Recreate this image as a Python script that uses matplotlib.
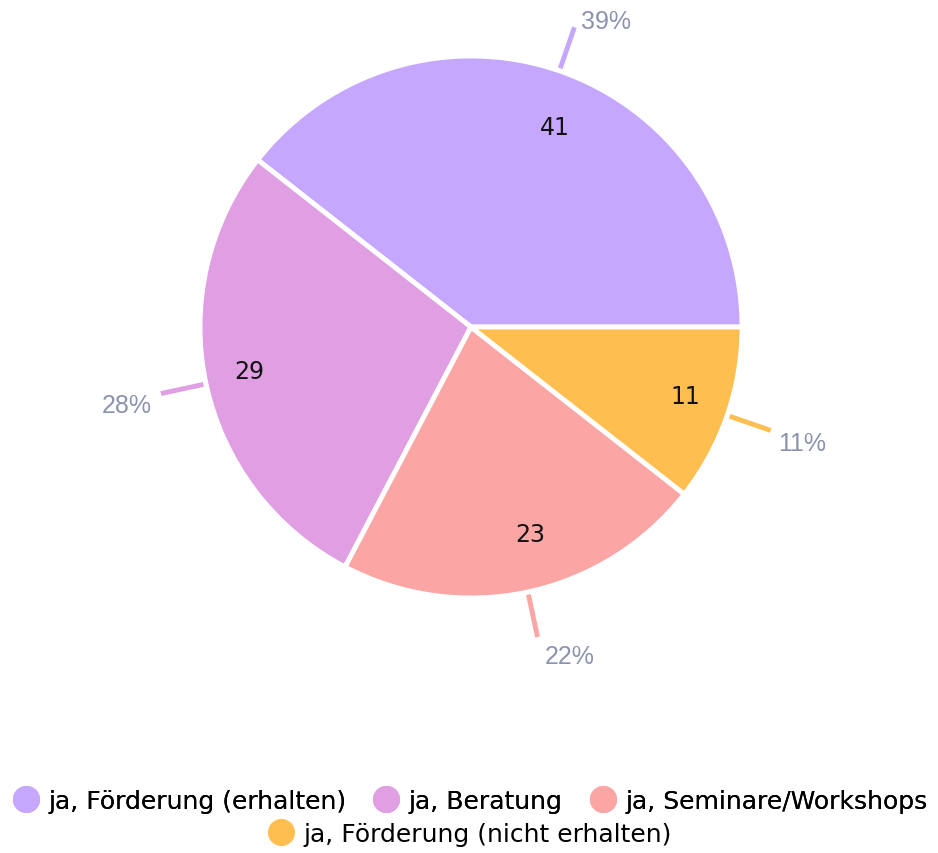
import numpy as np
import matplotlib
matplotlib.use("Agg")
import matplotlib.pyplot as plt
from matplotlib.lines import Line2D
from matplotlib import font_manager

labels = ["ja, Förderung (erhalten)", "ja, Beratung", "ja, Seminare/Workshops",
          "ja, Förderung (nicht erhalten)"]
counts = [41, 29, 23, 11]
colors = ["#C5A8FE", "#E09FE3", "#FCA5A5", "#FFBE50"]

names = {f.name for f in font_manager.fontManager.ttflist}
legend_font = [n for n in ["Liberation Sans Narrow", "DejaVu Sans Condensed"] if n in names] + ["DejaVu Sans"]

fig = plt.figure(figsize=(9.38, 8.54), dpi=100)
W, H = 938, 854
cx, cy, r = 471, 328, 271
ax = fig.add_axes([(cx - r) / W, (H - cy - r) / H, 2 * r / W, 2 * r / H])

wedges, texts = ax.pie(counts, colors=colors, startangle=0, counterclock=True,
                       labels=[str(c) for c in counts], labeldistance=0.78,
                       wedgeprops=dict(edgecolor="white", linewidth=3.5),
                       textprops=dict(fontsize=17, color="#111111",
                                      family=['DejaVu Sans']))
ax.set_xlim(-1, 1)
ax.set_ylim(-1, 1)
ax.set_aspect("equal")
ax.axis("off")

total = sum(counts)
start = 0
for c, col in zip(counts, colors):
    ang = np.deg2rad(start + c / total * 360 / 2)
    start += c / total * 360
    ca, sa = np.cos(ang), np.sin(ang)
    ax.plot([1.01 * ca, 1.17 * ca], [1.01 * sa, 1.17 * sa], color=col, lw=3.5,
            solid_capstyle="butt", clip_on=False)
    dx = 7 if ca > 0 else -9
    dy = 6 if sa > 0 else 10 * sa - 9
    ax.annotate("%d%%" % round(c / total * 100), (1.17 * ca, 1.17 * sa),
                xytext=(dx, dy), textcoords="offset pixels", annotation_clip=False,
                ha="left" if ca > 0 else "right", va="center",
                fontsize=18, color="#8C93AE", family=['Liberation Sans', 'DejaVu Sans'])

handles = [Line2D([], [], marker="o", ls="", markersize=19.5, color=c, markeredgewidth=0)
           for c in colors]
leg1 = fig.legend(handles[:3], labels[:3], loc="center", bbox_to_anchor=(0.5, 1 - 802 / H),
                  ncol=3, frameon=False, prop=dict(family=legend_font, size=18),
                  handletextpad=0.3, columnspacing=1.0, handlelength=1.2)
fig.add_artist(leg1)
fig.legend(handles[3:], labels[3:], loc="center", bbox_to_anchor=(0.5, 1 - 835 / H),
           ncol=1, frameon=False, prop=dict(family=legend_font, size=18),
           handletextpad=0.3, handlelength=1.2)

fig.savefig("out.png", dpi=100, facecolor="white")
